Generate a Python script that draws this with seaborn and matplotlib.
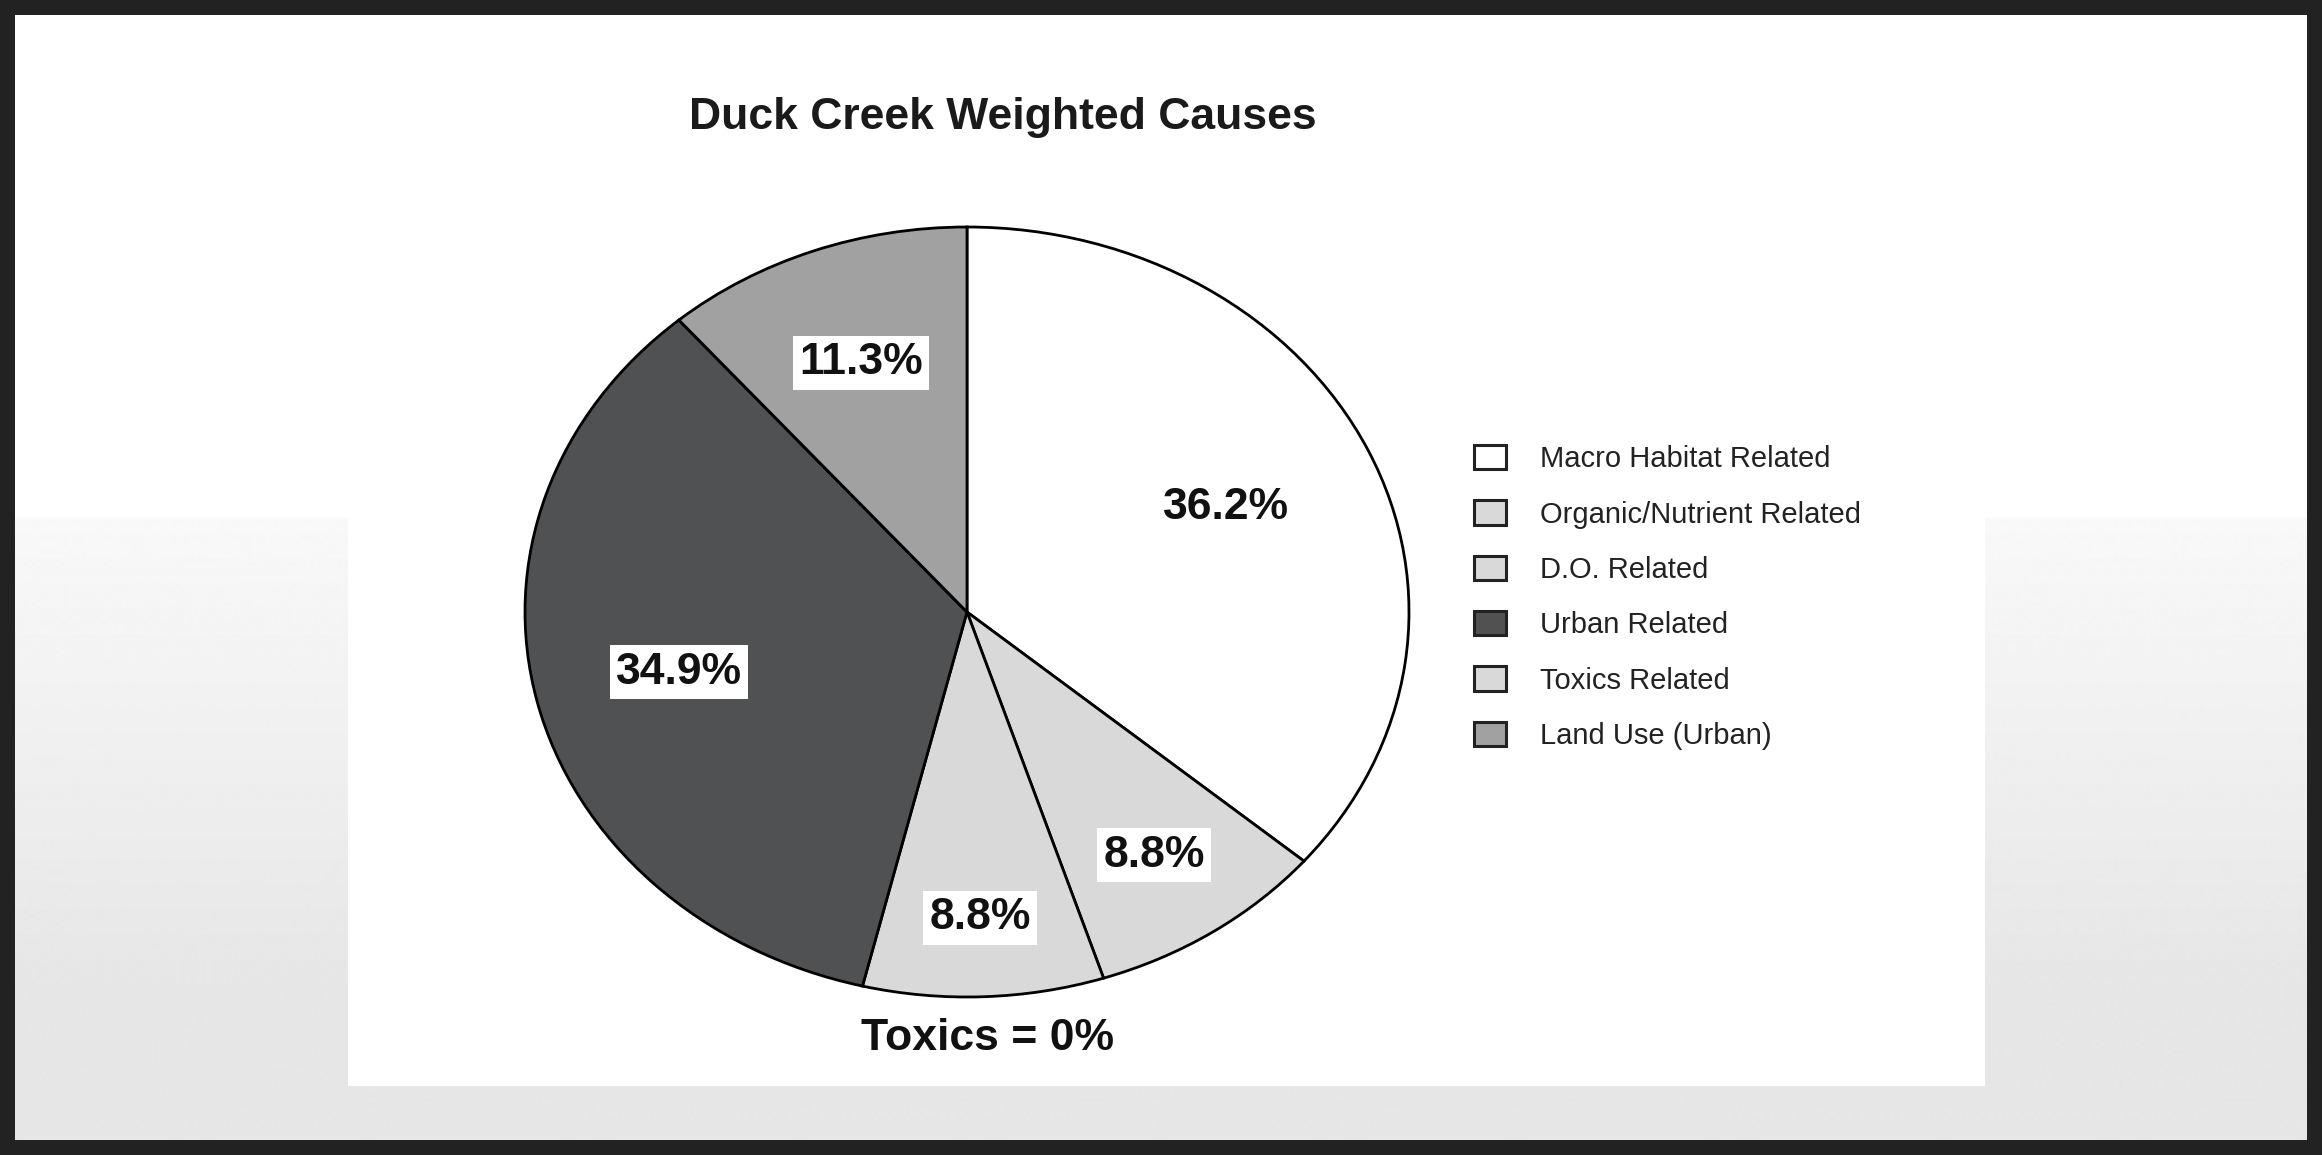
import numpy as np
import matplotlib
matplotlib.use("Agg")
import matplotlib.pyplot as plt
import seaborn as sns
from matplotlib.patches import Rectangle

# ---- data ----
categories = ["Macro Habitat Related", "Organic/Nutrient Related", "D.O. Related",
              "Urban Related", "Toxics Related", "Land Use (Urban)"]
shares = [36.2, 8.8, 8.8, 34.9, 0.0, 11.3]
pct_labels = ["36.2%", "8.8%", "8.8%", "34.9%", "", "11.3%"]
title = "Duck Creek Weighted Causes"
note = "Toxics = 0%"

# ---- style ----
slice_colors = ["#ffffff", "#d9d9d9", "#d9d9d9", "#4f5153", "#d9d9d9", "#a1a1a1"]
label_radius = [0.645, 0.76, 0.795, 0.67, 0.0, 0.69]

sns.set_theme(style="white")
plt.rcParams["font.family"] = ["Liberation Sans", "DejaVu Sans"]

W, H = 2322, 1155
fig = plt.figure(figsize=(W / 100, H / 100), dpi=100)
fig.patch.set_facecolor("#222222")

# background frame
bg = fig.add_axes([0, 0, 1, 1])
bg.axis("off")
ys = np.arange(15, 1141)
vals = np.where(ys < 518, 1.0, np.clip(0.975 - (ys - 518) / (1000 - 518) * 0.075, 0.90, 1.0))
img = np.repeat(vals[:, None], 2, axis=1)
bg.imshow(img, cmap="gray", vmin=0, vmax=1, extent=[15, W - 15, 1140, 15],
          aspect="auto", interpolation="bilinear")
bg.add_patch(Rectangle((348, 15), 1985 - 348, 1086 - 15, facecolor="white", edgecolor="none"))
bg.set_xlim(0, W)
bg.set_ylim(H, 0)

# pie
cx, cy, rx, ry = 967, 612, 442, 385
lim = 1.05
ax = fig.add_axes([(cx - rx * lim) / W, (H - cy - ry * lim) / H, 2 * rx * lim / W, 2 * ry * lim / H])
wedges, _ = ax.pie(shares, colors=slice_colors, startangle=90, counterclock=False,
                   wedgeprops=dict(edgecolor="black", linewidth=2.0))
ax.set_aspect("auto")
ax.set_xlim(-lim, lim)
ax.set_ylim(-lim, lim)
ax.axis("off")

for w, lab, r in zip(wedges, pct_labels, label_radius):
    if not lab:
        continue
    ang = np.deg2rad((w.theta1 + w.theta2) / 2)
    ax.text(r * np.cos(ang), r * np.sin(ang), lab, ha="center", va="center",
            fontsize=32, fontweight="bold", color="#111111",
            bbox=dict(boxstyle="square,pad=0.14", fc="white", ec="none"))

ax.text(0.047, -1.107, note, ha="center", va="center", fontsize=32,
        fontweight="bold", color="#111111")

# title
fig.text(1003 / W, 1 - 118 / H, title, ha="center", va="center",
         fontsize=32, fontweight="bold", color="#1a1a1a")

# legend
leg = fig.legend(wedges, categories, loc="center left",
                 bbox_to_anchor=(1474 / W, 1 - 597.5 / H), frameon=False, fontsize=21,
                 handlelength=1.1, handleheight=0.9, handletextpad=1.15,
                 labelspacing=0.93, borderpad=0, borderaxespad=0, labelcolor="#222222")
for h in leg.legend_handles:
    h.set_linewidth(2.2)
    h.set_edgecolor("#222222")

fig.savefig("out.png", dpi=100, facecolor=fig.get_facecolor())
